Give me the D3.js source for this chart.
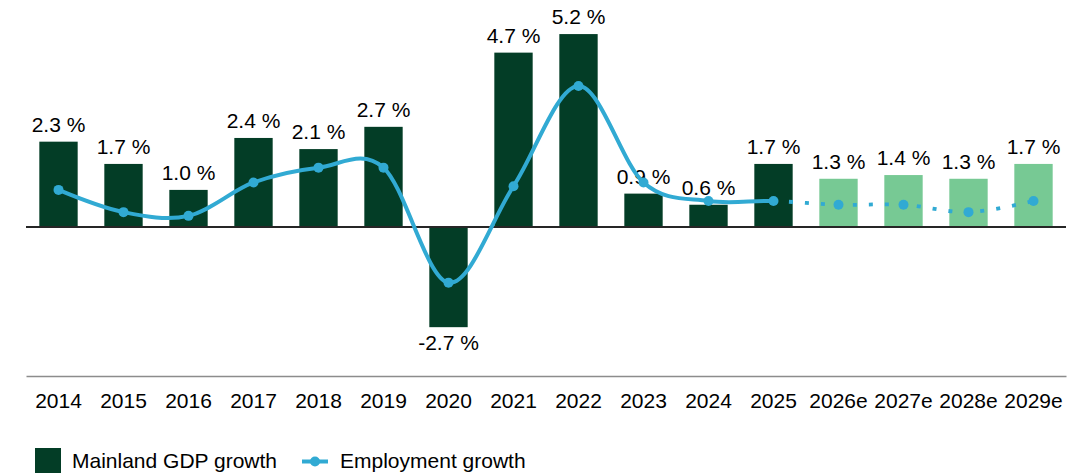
<!DOCTYPE html>
<html>
<head>
<meta charset="utf-8">
<script src="https://cdn.jsdelivr.net/npm/d3@7"></script>
<style>
  html, body { margin: 0; padding: 0; background: #fff; }
  svg { display: block; font-family: "Liberation Sans", Arial, sans-serif; }
</style>
</head>
<body>
<svg id="chart" width="1086" height="474"></svg>
<script>
// Years on the x axis (forecast years marked with "e")
const years = ["2014", "2015", "2016", "2017", "2018", "2019", "2020", "2021",
               "2022", "2023", "2024", "2025", "2026e", "2027e", "2028e", "2029e"];
// Mainland GDP growth, %
const gdpGrowth = [2.3, 1.7, 1.0, 2.4, 2.1, 2.7, -2.7, 4.7, 5.2, 0.9, 0.6, 1.7, 1.3, 1.4, 1.3, 1.7];
// Employment growth, %
const employmentGrowth = [1.0, 0.4, 0.3, 1.2, 1.6, 1.6, -1.5, 1.1, 3.8, 1.2, 0.7, 0.7, 0.6, 0.6, 0.4, 0.7];
// First forecast year
const firstForecast = "2026e";

const colors = {
  actual: "#033d26",
  forecast: "#77c994",
  line: "#31aad3",
  zero: "#262626",
  axis: "#8c8c8c",
  text: "#000000"
};

// Plain hyphen for negative values
const fmt = d3.formatLocale({
  decimal: ".", thousands: ",", grouping: [3], currency: ["", ""], minus: "-"
}).format(".1f");

const svg = d3.select("#chart");
const forecastIndex = years.indexOf(firstForecast);

const x = d3.scaleBand()
  .domain(years)
  .range([26, 1066])
  .paddingInner(0.41)
  .paddingOuter(0.205);

const y = d3.scaleLinear()
  .domain([-3, 6])
  .range([338.3, 4.4]);

const cx = d => x(d) + x.bandwidth() / 2;

// Bars
const bars = years.map((yr, i) => ({ year: yr, value: gdpGrowth[i], forecast: i >= forecastIndex }));

svg.append("g")
  .selectAll("rect")
  .data(bars)
  .join("rect")
  .attr("x", d => x(d.year))
  .attr("width", x.bandwidth())
  .attr("y", d => y(Math.max(0, d.value)))
  .attr("height", d => Math.abs(y(d.value) - y(0)))
  .attr("fill", d => d.forecast ? colors.forecast : colors.actual);

// Zero line
svg.append("line")
  .attr("x1", x.range()[0]).attr("x2", x.range()[1])
  .attr("y1", y(0)).attr("y2", y(0))
  .attr("stroke", colors.zero)
  .attr("stroke-width", 1.8);

// Value labels
svg.append("g")
  .selectAll("text")
  .data(bars)
  .join("text")
  .attr("x", d => cx(d.year))
  .attr("y", d => d.value >= 0 ? y(d.value) - 10 : y(d.value) + 23)
  .attr("text-anchor", "middle")
  .attr("font-size", 21)
  .attr("fill", colors.text)
  .text(d => fmt(d.value) + " %");

// Employment line: one smooth curve, solid for actuals and dotted for forecasts
const points = years.map((yr, i) => [cx(yr), y(employmentGrowth[i])]);
const lineGen = d3.line().curve(d3.curveCardinal.tension(0));
const pathD = lineGen(points);
const splitX = cx(years[forecastIndex - 1]);

const defs = svg.append("defs");
defs.append("clipPath").attr("id", "clip-actual")
  .append("rect").attr("x", 0).attr("y", 0).attr("width", splitX).attr("height", 474);
defs.append("clipPath").attr("id", "clip-forecast")
  .append("rect").attr("x", splitX).attr("y", 0).attr("width", 1086 - splitX).attr("height", 474);

svg.append("path")
  .attr("d", pathD)
  .attr("fill", "none")
  .attr("stroke", colors.line)
  .attr("stroke-width", 4)
  .attr("clip-path", "url(#clip-actual)");

const dotted = svg.append("path")
  .attr("d", pathD)
  .attr("fill", "none")
  .attr("stroke", colors.line)
  .attr("stroke-width", 3.8)
  .attr("stroke-dasharray", "4 12")
  .attr("clip-path", "url(#clip-forecast)");

// Phase the dots so the first one sits just clear of the last actual marker
const node = dotted.node();
let lo = 0, hi = node.getTotalLength();
for (let k = 0; k < 40; k++) {
  const mid = (lo + hi) / 2;
  if (node.getPointAtLength(mid).x < splitX) lo = mid; else hi = mid;
}
const startLen = lo + 15;
dotted.attr("stroke-dashoffset", 16 - (startLen % 16));

svg.append("g")
  .selectAll("circle")
  .data(points)
  .join("circle")
  .attr("cx", d => d[0])
  .attr("cy", d => d[1])
  .attr("r", 5)
  .attr("fill", colors.line);

// Category axis
const axis = svg.append("g")
  .attr("transform", "translate(0,376)")
  .call(d3.axisBottom(x).tickSize(0).tickSizeOuter(0).tickPadding(17));
axis.select(".domain").attr("stroke", colors.axis).attr("stroke-width", 1.5);
axis.selectAll("text")
  .attr("font-size", 21)
  .attr("font-family", "\"Liberation Sans\", Arial, sans-serif")
  .attr("fill", colors.text);

// Legend
const legend = svg.append("g");
legend.append("rect")
  .attr("x", 35).attr("y", 448).attr("width", 26).attr("height", 25)
  .attr("fill", colors.actual);
legend.append("text")
  .attr("x", 72).attr("y", 468)
  .attr("font-size", 21).attr("fill", colors.text)
  .text("Mainland GDP growth");
legend.append("line")
  .attr("x1", 302).attr("x2", 328).attr("y1", 461.5).attr("y2", 461.5)
  .attr("stroke", colors.line).attr("stroke-width", 4);
legend.append("circle")
  .attr("cx", 315).attr("cy", 461.5).attr("r", 5)
  .attr("fill", colors.line);
legend.append("text")
  .attr("x", 340).attr("y", 468)
  .attr("font-size", 21).attr("fill", colors.text)
  .text("Employment growth");
</script>
</body>
</html>
